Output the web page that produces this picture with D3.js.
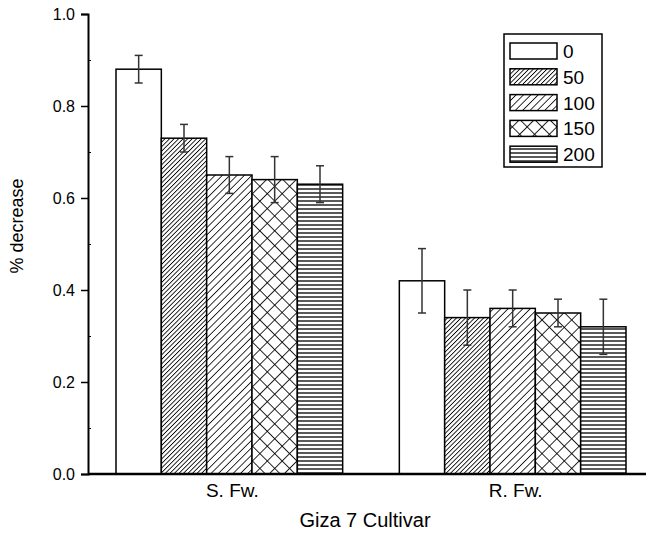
<!DOCTYPE html>
<html>
<head>
<meta charset="utf-8">
<script src="https://cdn.jsdelivr.net/npm/d3@7"></script>
<style>
  html, body { margin: 0; padding: 0; background: #fff; }
  svg { display: block; font-family: "Liberation Sans", Arial, sans-serif; }
</style>
</head>
<body>
<svg id="chart" width="646" height="536"></svg>
<script>
const categories = ["S. Fw.", "R. Fw."];
const series = ["0", "50", "100", "150", "200"];
const values = [
  [0.88, 0.73, 0.65, 0.64, 0.63],
  [0.42, 0.34, 0.36, 0.35, 0.32]
];
const errors = [
  [0.03, 0.03, 0.04, 0.05, 0.04],
  [0.07, 0.06, 0.04, 0.03, 0.06]
];
const yTicks = [0.0, 0.2, 0.4, 0.6, 0.8, 1.0];
const yMinorTicks = [0.1, 0.3, 0.5, 0.7, 0.9];
const yLabel = "% decrease";
const xLabel = "Giza 7 Cultivar";

const svg = d3.select("#chart");
const defs = svg.append("defs");

// patterns
function diag(id, s, rot, w) {
  const p = defs.append("pattern").attr("id", id)
    .attr("patternUnits", "userSpaceOnUse")
    .attr("width", s).attr("height", s)
    .attr("patternTransform", `rotate(${rot})`);
  p.append("rect").attr("width", s).attr("height", s).attr("fill", "#fff");
  p.append("line").attr("x1", 0).attr("y1", 0).attr("x2", 0).attr("y2", s)
    .attr("stroke", "#000").attr("stroke-width", w);
}
diag("p50", 3.2, 45, 1.7);
diag("p100", 5.2, 45, 1.6);
{
  const s = 10.5;
  const p = defs.append("pattern").attr("id", "p150")
    .attr("patternUnits", "userSpaceOnUse")
    .attr("width", s).attr("height", s)
    .attr("patternTransform", "rotate(45)");
  p.append("rect").attr("width", s).attr("height", s).attr("fill", "#fff");
  p.append("line").attr("x1", 0).attr("y1", 0).attr("x2", 0).attr("y2", s)
    .attr("stroke", "#000").attr("stroke-width", 1.7);
  p.append("line").attr("x1", 0).attr("y1", 0).attr("x2", s).attr("y2", 0)
    .attr("stroke", "#000").attr("stroke-width", 1.7);
}
{
  const s = 4;
  const p = defs.append("pattern").attr("id", "p200")
    .attr("patternUnits", "userSpaceOnUse")
    .attr("width", 10).attr("height", s);
  p.append("rect").attr("width", 10).attr("height", s).attr("fill", "#fff");
  p.append("line").attr("x1", 0).attr("y1", 1).attr("x2", 10).attr("y2", 1)
    .attr("stroke", "#000").attr("stroke-width", 1.3);
}
const fills = ["#fff", "url(#p50)", "url(#p100)", "url(#p150)", "url(#p200)"];

const y = d3.scaleLinear().domain([0, 1]).range([474, 14]);
const x0 = d3.scaleBand().domain(categories).range([116, 626]).paddingInner(0.2).paddingOuter(0);
const x1 = d3.scaleBand().domain(series).range([0, x0.bandwidth()]);

// bars
categories.forEach((c, ci) => {
  const g = svg.append("g");
  series.forEach((s, si) => {
    const v = values[ci][si];
    g.append("rect")
      .attr("x", x0(c) + x1(s))
      .attr("y", y(v))
      .attr("width", x1.bandwidth())
      .attr("height", y(0) - y(v))
      .attr("fill", fills[si])
      .attr("stroke", "#000")
      .attr("stroke-width", 1.5);
  });
});

// error bars
categories.forEach((c, ci) => {
  series.forEach((s, si) => {
    const v = values[ci][si], e = errors[ci][si];
    const cx = x0(c) + x1(s) + x1.bandwidth() / 2;
    const g = svg.append("g").attr("stroke", "#333").attr("stroke-width", 1.5);
    g.append("line").attr("x1", cx).attr("x2", cx).attr("y1", y(v + e)).attr("y2", y(v - e));
    g.append("line").attr("x1", cx - 4).attr("x2", cx + 4).attr("y1", y(v + e)).attr("y2", y(v + e));
    g.append("line").attr("x1", cx - 4).attr("x2", cx + 4).attr("y1", y(v - e)).attr("y2", y(v - e));
  });
});

// y axis
const yAxis = d3.axisLeft(y).tickValues(yTicks).tickFormat(d3.format(".1f")).tickSize(7).tickPadding(6);
const yg = svg.append("g").attr("transform", "translate(88,0)").call(yAxis);
yg.select(".domain").attr("stroke", "#000").attr("stroke-width", 2);
yg.selectAll(".tick line").attr("stroke", "#000").attr("stroke-width", 1.5);
yg.selectAll(".tick text").attr("font-size", 16).attr("fill", "#000")
  .attr("font-family", "Liberation Sans, Arial, sans-serif");
const ym = d3.axisRight(y).tickValues(yMinorTicks).tickSize(3).tickFormat("");
const ymg = svg.append("g").attr("transform", "translate(88,0)").call(ym);
ymg.select(".domain").remove();
ymg.selectAll(".tick line").attr("stroke", "#000").attr("stroke-width", 1);

// x axis
const xAxis = d3.axisBottom(x0).tickSize(0).tickPadding(10);
const xg = svg.append("g").attr("transform", `translate(0,${y(0)})`).call(xAxis);
xg.select(".domain").attr("d", `M88,0H646`).attr("stroke", "#000").attr("stroke-width", 2.5);
xg.selectAll(".tick text").attr("font-size", 19).attr("fill", "#000")
  .attr("font-family", "Liberation Sans, Arial, sans-serif").attr("dx", 3);

// axis titles
svg.append("text").attr("x", 365).attr("y", 527).attr("text-anchor", "middle")
  .attr("font-size", 20).text(xLabel);
svg.append("text").attr("transform", "translate(23,226) rotate(-90)")
  .attr("text-anchor", "middle").attr("font-size", 18).text(yLabel);

// legend
const lg = svg.append("g");
lg.append("rect").attr("x", 504).attr("y", 34).attr("width", 98).attr("height", 133)
  .attr("fill", "#fff").attr("stroke", "#000").attr("stroke-width", 1.5);
series.forEach((s, i) => {
  const ty = 43 + i * 25.8;
  lg.append("rect").attr("x", 510).attr("y", ty).attr("width", 47).attr("height", 16)
    .attr("fill", fills[i]).attr("stroke", "#000").attr("stroke-width", 1.5);
  lg.append("text").attr("x", 563).attr("y", ty + 15).attr("font-size", 19).text(s);
});
</script>
</body>
</html>
